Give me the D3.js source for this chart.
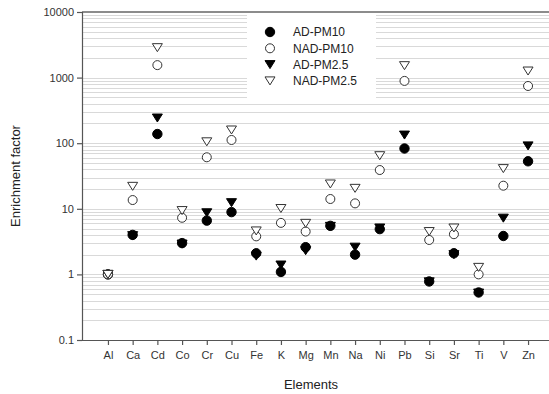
<!DOCTYPE html>
<html lang="en">
<head>
<meta charset="UTF-8">
<title>Enrichment factor</title>
<script src="https://cdn.jsdelivr.net/npm/d3@7"></script>
<style>
    body { margin: 0; background: #fff; }
    text { font-family: "Liberation Sans", Arial, sans-serif; fill: #222; }
</style>
</head>
<body>
<svg width="549" height="394"></svg>
<script>
// data
var elements = ["Al","Ca","Cd","Co","Cr","Cu","Fe","K","Mg","Mn","Na","Ni","Pb","Si","Sr","Ti","V","Zn"];
var adPM10   = [1.0, 4.0, 138, 3.0, 6.6, 8.9, 2.1, 1.09, 2.6, 5.5, 2.0, 4.9, 83, 0.78, 2.1, 0.53, 3.85, 53];
var nadPM10  = [1.0, 13.6, 1550, 7.3, 61, 112, 3.8, 6.1, 4.5, 14.1, 12.1, 39, 890, 3.35, 4.1, 1.0, 22.5, 745];
var adPM25   = [1.0, 3.9, 242, 2.9, 8.7, 12.4, 1.9, 1.39, 2.3, 5.4, 2.6, 5.1, 133, 0.77, 2.0, 0.52, 7.2, 91];
var nadPM25  = [1.0, 22, 2860, 9.4, 105, 159, 4.6, 10.1, 6.0, 23.9, 20.5, 64.5, 1520, 4.5, 5.1, 1.28, 41, 1260];
var seriesNames = ["AD-PM10","NAD-PM10","AD-PM2.5","NAD-PM2.5"];
var yTicks = [0.1, 1, 10, 100, 1000, 10000];

var svg = d3.select("svg");
var plotLeft = 82, plotTop = 12, plotBottom = 340, plotRight = 549;

var x = d3.scalePoint().domain(elements).range([plotLeft, 554]).padding(1.05);
var y = d3.scaleLog().domain([0.1, 10000]).range([plotBottom, plotTop]);

// 网格线 (minor)
var grid = [];
for (var e = -1; e < 4; e++) {
    for (var m = 1; m < 10; m++) {
        if (e === -1 && m === 1) continue;
        grid.push(m * Math.pow(10, e));
    }
}
svg.append("g").selectAll("line")
    .data(grid)
    .enter()
    .append("line")
    .attr("x1", plotLeft).attr("x2", plotRight)
    .attr("y1", function(d){ return Math.round(y(d)) + 0.5; })
    .attr("y2", function(d){ return Math.round(y(d)) + 0.5; })
    .style("stroke", "#d9d9d9")
    .style("stroke-width", 1.2);

// top border
svg.append("line")
    .attr("x1", plotLeft).attr("x2", plotRight)
    .attr("y1", plotTop).attr("y2", plotTop)
    .style("stroke", "#8c8c8c").style("stroke-width", 2);

// legend box (covers grid)
svg.append("rect")
    .attr("x", 247).attr("y", 14).attr("width", 129).attr("height", 88)
    .style("fill", "#fff");

// axes
var yAxis = svg.append("g")
    .attr("transform", "translate(" + plotLeft + ",0)")
    .call(d3.axisLeft(y).tickValues(yTicks).tickFormat(d3.format("")).tickSize(5).tickPadding(3));
var xAxis = svg.append("g")
    .attr("transform", "translate(0," + plotBottom + ")")
    .call(d3.axisBottom(x).tickSize(5).tickPadding(6));
xAxis.select(".domain").attr("d", "M" + plotLeft + ",0.5H" + plotRight);
[yAxis, xAxis].forEach(function(a){
    a.selectAll("path,line").style("stroke", "#555").style("stroke-width", 1.2);
    a.selectAll("text").style("font-size", "11px").style("fill", "#333")
        .style("font-family", "Liberation Sans, Arial, sans-serif");
});

// axis titles
svg.append("text")
    .attr("transform", "translate(20,176) rotate(-90)")
    .attr("text-anchor", "middle")
    .style("font-size", "13px")
    .text("Enrichment factor");
svg.append("text")
    .attr("x", 311).attr("y", 389)
    .attr("text-anchor", "middle")
    .style("font-size", "13px")
    .text("Elements");

// marker shapes
var tri = "M-5,-4L5,-4L0,4Z";
function drawMarker(g, k) {
    if (k === 0) g.append("circle").attr("r", 4.7).style("fill", "#000").style("stroke", "#000");
    if (k === 1) g.append("circle").attr("r", 4.5).style("fill", "#fff").style("stroke", "#333").style("stroke-width", 1);
    if (k === 2) g.append("path").attr("d", tri).style("fill", "#000").style("stroke", "#000");
    if (k === 3) g.append("path").attr("d", tri).style("fill", "#fff").style("stroke", "#333").style("stroke-width", 1);
}

var allSeries = [adPM10, nadPM10, adPM25, nadPM25];
allSeries.forEach(function(vals, k){
    svg.append("g").selectAll("g")
        .data(vals)
        .enter()
        .append("g")
        .attr("transform", function(d, i){ return "translate(" + x(elements[i]) + "," + y(d) + ")"; })
        .each(function(){ drawMarker(d3.select(this), k); });
});

// legend
var legend = svg.append("g").selectAll("g")
    .data(seriesNames)
    .enter()
    .append("g")
    .attr("transform", function(d, i){ return "translate(270," + (32 + i * 16.3) + ")"; });
legend.each(function(d, i){ drawMarker(d3.select(this), i); });
legend.append("text")
    .attr("x", 23).attr("dy", "0.35em")
    .style("font-size", "12px")
    .text(function(d){ return d; });
</script>
</body>
</html>
